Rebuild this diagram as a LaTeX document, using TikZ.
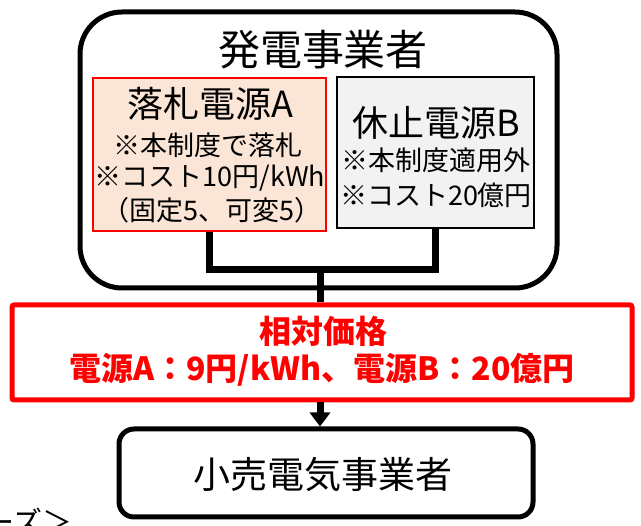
\documentclass[tikz,border=0pt]{standalone}
\usepackage{fontspec}
\setmainfont{Noto Sans CJK JP}
\usetikzlibrary{arrows.meta}
\definecolor{peach}{HTML}{FBE5D6}
\definecolor{lgray}{HTML}{F2F2F2}
\definecolor{pred}{HTML}{FF0000}
\tikzset{
  outerbox/.style={draw=black,line width=5pt,rounded corners=42pt},
  abox/.style={draw=pred,fill=peach,line width=1.5pt},
  bbox/.style={draw=black,fill=lgray,line width=1.5pt},
  redbox/.style={draw=pred,line width=5pt,rounded corners=2pt},
  retbox/.style={draw=black,line width=5pt,rounded corners=15pt},
  conn/.style={line width=7pt,line join=miter},
  txt/.style={inner sep=0pt,text=black},
}
\newcommand{\fs}[1]{\fontsize{#1}{#1}\selectfont}
\begin{document}
\begin{tikzpicture}[x=1pt,y=-1pt]
\useasboundingbox (0,0) rectangle (641,526);
\clip (0,0) rectangle (641,526);
% boxes
\draw[outerbox] (80,12) rectangle (557,288);
\node[abox,minimum width=233pt,minimum height=153pt,inner sep=0pt] (A) at (209.5,154.5) {};
\node[bbox,minimum width=197pt,minimum height=151pt,inner sep=0pt] (B) at (435.5,152.5) {};
\node[redbox,minimum width=620pt,minimum height=95pt,inner sep=0pt] (P) at (322,352.5) {};
\node[retbox,minimum width=414pt,minimum height=88pt,inner sep=0pt] (R) at (326,473) {};
% texts
\node[txt] (t0) at (323,50) {\fs{42}発電事業者};
\node[txt] (a1) at (210,104) {\fs{36}落札電源A};
\node[txt] (a2) at (208,145) {\fs{27}※本制度で落札};
\node[txt] (a3) at (210,178) {\fs{27}※コスト10円/kWh};
\node[txt] (a4) at (212,210) {\fs{27}（固定5、可変5）};
\node[txt] (b1) at (436,123) {\fs{36}休止電源B};
\node[txt] (b2) at (436,160) {\fs{27}※本制度適用外};
\node[txt] (b3) at (436,195) {\fs{27}※コスト20億円};
\node[txt,text=pred] (p1) at (323,331) {\fs{32}\bfseries 相対価格};
\node[txt,text=pred] (p2) at (322,370) {\fs{32}\bfseries 電源A：9円/kWh、電源B：20億円};
\node[txt] (r1) at (323,475) {\fs{37}小売電気事業者};
\node[txt,anchor=east] (ph) at (73,521) {\fs{30}ーズ＞};
% connectors
\coordinate (j) at (320,270);
\draw[conn] (A.south) |- (j) -| (B.south);
\draw[conn] (j) -- (j |- P.north);
\draw[conn,-{Triangle[length=14pt,width=20pt]}] (P.south -| j) -- (R.north -| j);
\end{tikzpicture}
\end{document}
